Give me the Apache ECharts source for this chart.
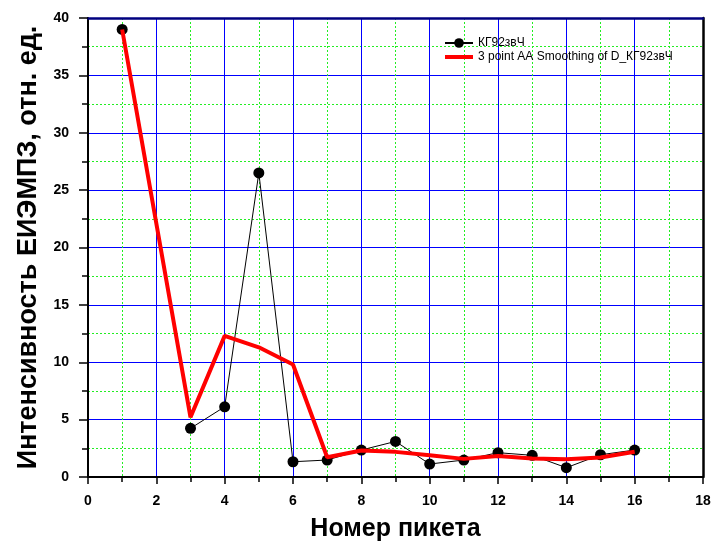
<!DOCTYPE html>
<html>
<head>
<meta charset="utf-8">
<script src="https://cdn.jsdelivr.net/npm/echarts@6/dist/echarts.min.js"></script>
<style>
  html, body { margin: 0; padding: 0; background: #fff; }
  #chart { width: 715px; height: 542px; }
</style>
</head>
<body>
<div id="chart"></div>
<script>
// Picket numbers along the profile
var pickets = [1, 2, 3, 4, 5, 6, 7, 8, 9, 10, 11, 12, 13, 14, 15, 16];
// Measured EMR intensity (no reading at picket 2)
var measured = [39.0, null, 4.24, 6.12, 26.5, 1.33, 1.48, 2.35, 3.1, 1.13, 1.48, 2.12, 1.89, 0.81, 1.94, 2.35];
// 3-point adjacent-averaging smoothing of the same profile
var smoothed = [39.0, null, 5.2, 12.3, 11.3, 9.8, 1.72, 2.31, 2.19, 1.90, 1.58, 1.83, 1.61, 1.55, 1.70, 2.2];

var seriesNames = ['КГ92звЧ', '3 point AA Smoothing of D_КГ92звЧ'];
var xTicks = { min: 0, max: 18, interval: 2 };
var yTicks = { min: 0, max: 40, interval: 5 };

function pairs(xs, ys) {
  return xs.map(function (x, i) { return [x, ys[i]]; });
}

var font = 'Arial, "Liberation Sans", sans-serif';
var chart = echarts.init(document.getElementById('chart'), null, { renderer: 'canvas' });

chart.setOption({
  backgroundColor: '#fff',
  animation: false,
  grid: { left: 88, right: 12, top: 18, bottom: 65, containLabel: false, outerBoundsMode: 'none' },
  legend: {
    orient: 'vertical',
    left: 444,
    top: 37,
    padding: 0,
    itemWidth: 28,
    itemHeight: 12,
    itemGap: 2,
    textStyle: { fontFamily: font, fontSize: 12, color: '#000' },
    data: [
      { name: seriesNames[0], itemStyle: { color: '#000' } },
      { name: seriesNames[1], icon: 'path://M0,4L28,4L28,8L0,8Z' }
    ]
  },
  xAxis: [{
    type: 'value',
    min: xTicks.min, max: xTicks.max, interval: xTicks.interval,
    name: 'Номер пикета',
    nameLocation: 'middle',
    nameGap: 40,
    nameTextStyle: { fontFamily: font, fontSize: 25, fontWeight: 'bold', color: '#000' },
    axisLine: { show: true, onZero: false, lineStyle: { color: '#000', width: 2 } },
    axisTick: { show: true, inside: false, length: 7, lineStyle: { color: '#000', width: 1.5 } },
    minorTick: { show: true, splitNumber: 2, length: 5, lineStyle: { color: '#000', width: 1.5 } },
    axisLabel: { margin: 17, fontFamily: font, fontSize: 14, fontWeight: 'bold', color: '#000' },
    splitLine: { show: true, lineStyle: { color: '#0000ff', width: 1 } },
    minorSplitLine: { show: true, lineStyle: { color: '#22ee22', width: 1, type: [2, 2] } }
  }, {
    type: 'value',
    position: 'top',
    min: xTicks.min, max: xTicks.max,
    axisLine: { show: true, onZero: false, lineStyle: { color: '#000080', width: 2.5 } },
    axisTick: { show: false },
    axisLabel: { show: false },
    splitLine: { show: false }
  }],
  yAxis: [{
    type: 'value',
    min: yTicks.min, max: yTicks.max, interval: yTicks.interval,
    name: 'Интенсивность ЕИЭМПЗ, отн. ед.',
    nameLocation: 'middle',
    nameGap: 46,
    nameTextStyle: { fontFamily: font, fontSize: 27, fontWeight: 'bold', color: '#000' },
    axisLine: { show: true, onZero: false, lineStyle: { color: '#000', width: 2 } },
    axisTick: { show: true, inside: false, length: 9, lineStyle: { color: '#000', width: 1.5 } },
    minorTick: { show: true, splitNumber: 2, length: 6, lineStyle: { color: '#000', width: 1.5 } },
    axisLabel: { margin: 19, fontFamily: font, fontSize: 14, fontWeight: 'bold', color: '#000' },
    splitLine: { show: true, lineStyle: { color: '#0000ff', width: 1 } },
    minorSplitLine: { show: true, lineStyle: { color: '#22ee22', width: 1, type: [2, 2] } }
  }, {
    type: 'value',
    position: 'right',
    min: yTicks.min, max: yTicks.max,
    axisLine: { show: true, onZero: false, lineStyle: { color: '#000', width: 2.5 } },
    axisTick: { show: false },
    axisLabel: { show: false },
    splitLine: { show: false }
  }],
  series: [{
    name: seriesNames[0],
    type: 'line',
    data: pairs(pickets, measured),
    connectNulls: false,
    symbol: 'circle',
    symbolSize: 11,
    itemStyle: { color: '#000' },
    lineStyle: { color: '#000', width: 1 },
    z: 3
  }, {
    name: seriesNames[1],
    type: 'line',
    data: pairs(pickets, smoothed),
    connectNulls: true,
    showSymbol: false,
    symbol: 'none',
    itemStyle: { color: '#ff0000' },
    lineStyle: { color: '#ff0000', width: 4 },
    z: 4
  }]
});
</script>
</body>
</html>
